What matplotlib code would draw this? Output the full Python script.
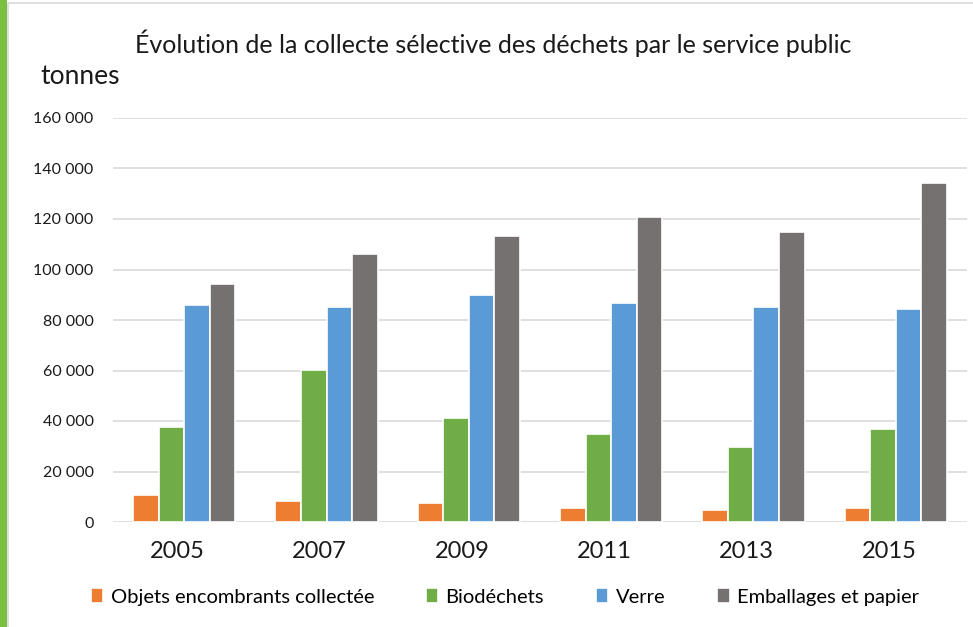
import numpy as np
import matplotlib.pyplot as plt
import matplotlib.transforms as mtransforms
from matplotlib.patches import Rectangle
from matplotlib.ticker import FuncFormatter

plt.rcParams['font.family'] = ['Lato', 'DejaVu Sans']

# data (tonnes)
annees = ['2005', '2007', '2009', '2011', '2013', '2015']
encombrants = [10700, 8300, 7500, 5500, 4900, 5500]
biodechets = [37700, 60200, 41100, 34900, 29900, 37000]
verre = [85900, 85100, 89900, 86600, 85100, 84500]
emballages = [94300, 106300, 113300, 120800, 114700, 134100]

series = [
    ('Objets encombrants collectée', encombrants, '#ED7D31'),
    ('Biodéchets', biodechets, '#70AD47'),
    ('Verre', verre, '#5B9BD5'),
    ('Emballages et papier', emballages, '#767171'),
]

fig = plt.figure(figsize=(9.73, 6.27), dpi=100)
W, H = 973, 627

# slide decoration: green stripe + light frame
fig.patches.append(Rectangle((0, 0), 7 / W, 1, transform=fig.transFigure,
                             facecolor='#7AC143', edgecolor='none'))
fig.patches.append(Rectangle((8 / W, -0.01), 1, 1 - 3 / H + 0.01, transform=fig.transFigure,
                             facecolor='none', edgecolor='#D9D9D9', linewidth=1.2))

ax = fig.add_axes([113 / W, 1 - 522 / H, (967 - 113) / W, (522 - 118) / H])

x = np.arange(len(annees))
slot = 0.18
for i, (nom, vals, col) in enumerate(series):
    ax.bar(x + (i - 1.5) * slot, vals, width=slot, color=col, edgecolor='white',
           linewidth=1.2, label=nom, zorder=3)

ax.set_ylim(0, 160000)
ax.set_xlim(-0.5, len(annees) - 0.5)
ax.set_yticks(np.arange(0, 160001, 20000))
ax.yaxis.set_major_formatter(FuncFormatter(lambda v, p: f'{int(v):,}'.replace(',', ' ')))
ax.grid(axis='y', color='#D9D9D9', linewidth=1.2, zorder=0)
for s in ax.spines.values():
    s.set_visible(False)
ax.tick_params(axis='both', length=0, colors='#1a1a1a')
ax.tick_params(axis='y', labelsize=11.5, pad=14)
ax.tick_params(axis='x', labelsize=17, pad=14)
ax.set_xticks(x)
ax.set_xticklabels(annees)
# year labels sit a little left of the group centre in the original
shift = mtransforms.ScaledTranslation(-7 / 100, 0, fig.dpi_scale_trans)
for lab in ax.get_xticklabels():
    lab.set_transform(lab.get_transform() + shift)

fig.text(493 / W, 1 - 43 / H, 'Évolution de la collecte sélective des déchets par le service public',
         ha='center', va='center', fontsize=18, color='#1a1a1a')
fig.text(40 / W, 1 - 76 / H, 'tonnes', ha='left', va='center', fontsize=19, color='#1a1a1a')

fig.legend(loc='center', bbox_to_anchor=(505 / W, 1 - 597 / H), ncol=4, frameon=False,
           fontsize=14.5, handlelength=0.6, handleheight=0.75, handletextpad=0.35,
           columnspacing=2.6)

fig.savefig('out.png', dpi=100, facecolor='white')
